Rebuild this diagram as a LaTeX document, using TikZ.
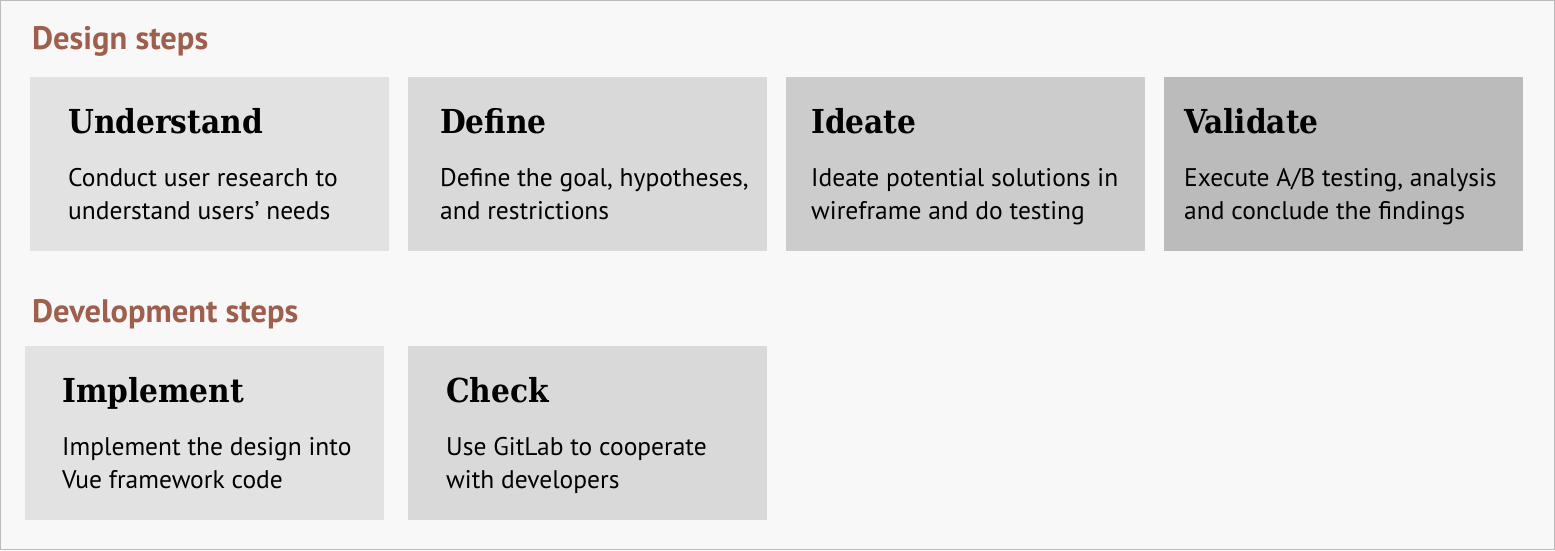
\documentclass[tikz,border=0pt]{standalone}
\usepackage{fontspec}
\setmainfont{PT Sans}
\newfontfamily\slabfont{DejaVu Serif Condensed}
\usetikzlibrary{positioning}

\definecolor{bgcol}{HTML}{F8F8F8}
\definecolor{framecol}{HTML}{BBBBBB}
\definecolor{headcol}{HTML}{9E5F4C}
\definecolor{cardA}{HTML}{E2E2E2}
\definecolor{cardB}{HTML}{D9D9D9}
\definecolor{cardC}{HTML}{CCCCCC}
\definecolor{cardD}{HTML}{BBBBBB}

\tikzset{
  card/.style={rectangle, inner sep=0pt, minimum width=359pt, minimum height=174pt, anchor=north west},
  cardtitle/.style={anchor=base west, inner sep=0pt, font=\slabfont\bfseries\fontsize{33}{38}\selectfont},
  cardtext/.style={anchor=base west, inner sep=0pt, align=left, font=\fontsize{25.5}{33}\selectfont},
  heading/.style={anchor=base west, inner sep=0pt, text=headcol, font=\bfseries\fontsize{32.5}{36}\selectfont}
}

\begin{document}
\begin{tikzpicture}[x=1pt,y=-1pt]
		\useasboundingbox (0,0) rectangle (1555,550);
		\filldraw[fill=bgcol, draw=framecol, line width=1pt] (0.5,0.5) rectangle (1554.5,549.5);
		% design row
		\node[heading] (design) at (32,49) {Design steps};
		\node[card, fill=cardA] (understand) at (30,77) {};
		\node[card, fill=cardB] (define) at (408,77) {};
		\node[card, fill=cardC] (ideate) at (786,77) {};
		\node[card, fill=cardD] (validate) at (1164,77) {};
		\node[cardtitle] (understandT) at (68,133) {Understand};
		\node[cardtext] (understandX) at (68,219) {Conduct user research to\\understand users’ needs};
		\node[cardtitle] (defineT) at (440,133) {Define};
		\node[cardtext] (defineX) at (440,219) {Define the goal, hypotheses,\\and restrictions};
		\node[cardtitle] (ideateT) at (811,133) {Ideate};
		\node[cardtext] (ideateX) at (811,219) {Ideate potential solutions in\\wireframe and do testing};
		\node[cardtitle] (validateT) at (1184,133) {Validate};
		\node[cardtext] (validateX) at (1184,219) {Execute A/B testing, analysis\\and conclude the findings};
		% development row
		\node[heading] (develop) at (32,322) {Development steps};
		\node[card, fill=cardA] (implement) at (25,346) {};
		\node[card, fill=cardB] (check) at (408,346) {};
		\node[cardtitle] (implementT) at (62,402) {Implement};
		\node[cardtext] (implementX) at (62,488) {Implement the design into\\Vue framework code};
		\node[cardtitle] (checkT) at (446,402) {Check};
		\node[cardtext] (checkX) at (446,488) {Use GitLab to cooperate\\with developers};
	\end{tikzpicture}
\end{document}
